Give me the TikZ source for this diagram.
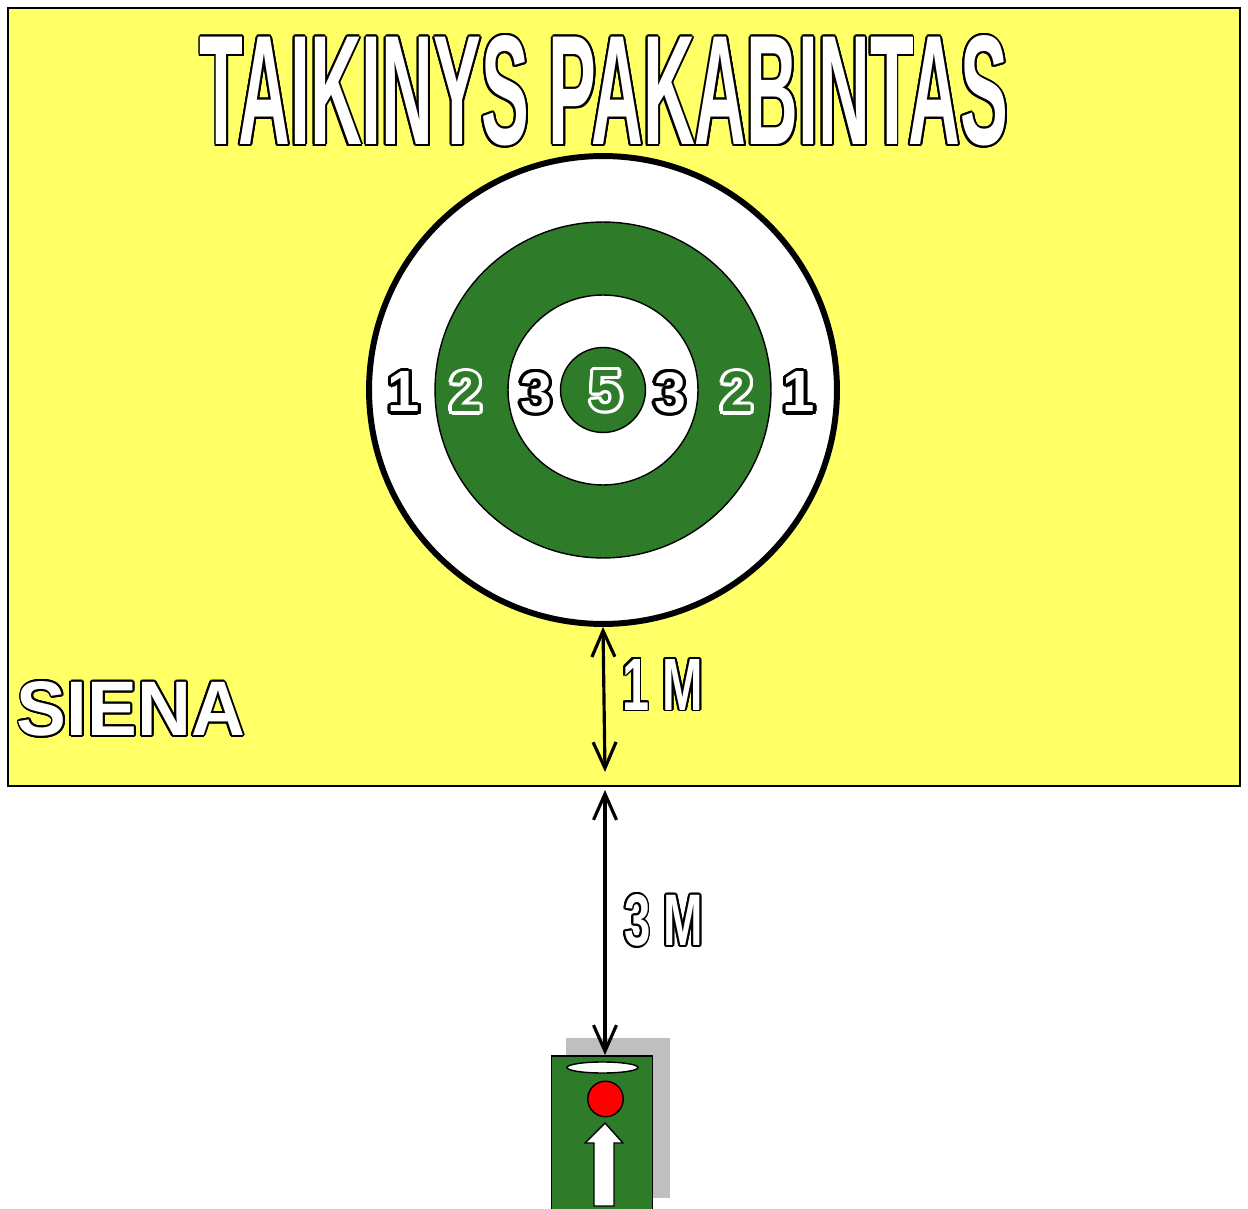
\documentclass[tikz,border=0pt]{standalone}
\usepackage{fontspec}
\setmainfont{Liberation Sans}
\usepackage{graphicx}
\usetikzlibrary{arrows.meta,positioning}

\definecolor{wallyellow}{RGB}{255,255,102}
\definecolor{ringgreen}{RGB}{46,123,42}
\definecolor{shadowgrey}{RGB}{191,191,191}

% outlined text: [width]{outline}{fill}{text}
\newcommand\outlined[4][1.1pt]{%
  \leavevmode\rlap{\color{#2}\foreach \ang in {0,22.5,...,337.5}{%
      \pgfmathsetlengthmacro\odx{#1*cos(\ang)}%
      \pgfmathsetlengthmacro\ody{#1*sin(\ang)}%
      \rlap{\hspace*{\odx}\raisebox{\ody}{#4}}}}%
  {\color{#3}#4}}
\newcommand\digit[3]{\outlined[1.8pt]{#1}{#2}{\resizebox{!}{0.8cm}{#3}}}

\tikzset{
  lbl/.style={inner sep=0pt,font=\bfseries},
  ring/.style={circle,draw=black,inner sep=0pt,line width=0.8pt},
  dim/.style={line width=1.8pt,
    {Straight Barb[length=0.52cm,width=0.46cm]}-{Straight Barb[length=0.52cm,width=0.46cm]}}
}

\begin{document}
\begin{tikzpicture}[x=0.02cm,y=-0.02cm]
    \useasboundingbox (0,0) rectangle (1248,1209);
    \draw[fill=wallyellow,line width=1pt] (8,8) rectangle (1240,786);

    \node[lbl] (title) at (604,91)
      {\outlined{black}{white}{\resizebox{16.16cm}{2.18cm}{TAIKINYS PAKABINTAS}}};

    % target
    \node[ring,fill=white,line width=3.4pt,minimum size=9.36cm] (O) at (603,390) {};
    \node[ring,fill=ringgreen,minimum size=6.72cm] (G) at (O) {};
    \node[ring,fill=white,minimum size=3.8cm] (I) at (O) {};
    \node[ring,fill=ringgreen,minimum size=1.7cm] (C) at (O) {};

    \node[lbl] (n1l) at (404,392) {\digit{black}{white}{1}};
    \node[lbl] (n2l) at (466,392) {\digit{white}{ringgreen}{2}};
    \node[lbl] (n3l) at (536,393) {\digit{black}{white}{3}};
    \node[lbl] (n5)  at (606,391) {\digit{white}{ringgreen}{5}};
    \node[lbl] (n3r) at (670,393) {\digit{black}{white}{3}};
    \node[lbl] (n2r) at (737,392) {\digit{white}{ringgreen}{2}};
    \node[lbl] (n1r) at (799,392) {\digit{black}{white}{1}};

    \node[lbl] (wall) at (131,709)
      {\outlined{black}{white}{\resizebox{4.56cm}{1.08cm}{SIENA}}};

    % mat
    \fill[shadowgrey] (566,1038) rectangle (670,1198);
    \node[draw=black,fill=ringgreen,line width=1pt,inner sep=0pt,anchor=north,
      minimum width=2.02cm,minimum height=3.3cm] (M) at (602,1055) {};
    \draw[fill=white,line width=0.8pt] (602.5,1067.5) ellipse [x radius=35.5,y radius=5.5];
    \node[circle,draw=black,fill=red,line width=0.8pt,inner sep=0pt,
      minimum size=0.71cm] (ball) at (605.5,1099) {};
    \draw[fill=white,line width=0.8pt] (594,1206) -- (594,1143) -- (585,1143) -- (605,1123)
      -- (623,1143) -- (614,1143) -- (614,1206) -- cycle;

    % distances
    \coordinate (W1) at (605,772);
    \coordinate (W2) at (605,790);
    \draw[dim] (O.south) -- (W1);
    \draw[dim] (W2) -- (W2 |- M.north);
    \node[lbl] (d1) at (662.5,684.5)
      {\outlined{black}{white}{\resizebox{1.62cm}{1.02cm}{1 M}}};
    \node[lbl] (d3) at (663.5,920.5)
      {\outlined{black}{white}{\resizebox{1.58cm}{1.02cm}{3 M}}};
\end{tikzpicture}
\end{document}
